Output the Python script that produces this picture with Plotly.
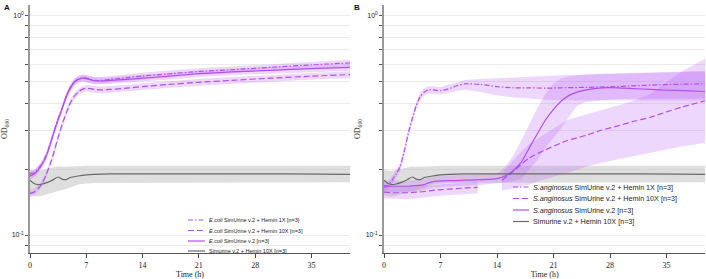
import plotly.graph_objects as go

# ---------------- data ----------------
T_CTRL = [0, 0.5, 1, 1.5, 2, 2.5, 3, 3.5, 4, 4.5, 5, 6, 7, 8, 10, 14, 20, 26, 32, 39.8]
CTRL = [0.178, 0.172, 0.170, 0.171, 0.173, 0.176, 0.180, 0.184, 0.180, 0.179, 0.183, 0.186, 0.188, 0.189, 0.190, 0.190, 0.190, 0.190, 0.190, 0.189]
CTRL_LO = [0.152, 0.151, 0.150, 0.151, 0.152, 0.155, 0.157, 0.159, 0.160, 0.162, 0.165, 0.170, 0.172, 0.173, 0.174, 0.174, 0.174, 0.174, 0.174, 0.174]
CTRL_HI = [0.198, 0.197, 0.196, 0.198, 0.200, 0.203, 0.205, 0.206, 0.205, 0.205, 0.205, 0.206, 0.207, 0.207, 0.207, 0.207, 0.207, 0.207, 0.207, 0.207]

# Panel A (E. coli)
T_A = [0, 0.5, 1, 1.5, 2, 2.5, 3, 3.5, 4, 4.5, 5, 5.5, 6, 6.5, 7, 7.5, 8, 9, 10, 12, 14, 17, 21, 25, 30, 35, 39.8]
A_1X = [0.19, 0.192, 0.20, 0.212, 0.23, 0.26, 0.30, 0.34, 0.38, 0.43, 0.47, 0.50, 0.515, 0.522, 0.52, 0.514, 0.508, 0.508, 0.513, 0.522, 0.532, 0.543, 0.558, 0.568, 0.583, 0.598, 0.61]
A_PLAIN = [0.186, 0.19, 0.198, 0.21, 0.228, 0.258, 0.297, 0.337, 0.378, 0.427, 0.467, 0.498, 0.513, 0.52, 0.518, 0.512, 0.506, 0.505, 0.508, 0.513, 0.52, 0.53, 0.545, 0.555, 0.565, 0.575, 0.582]
A_10X = [0.155, 0.157, 0.163, 0.172, 0.188, 0.21, 0.24, 0.28, 0.32, 0.36, 0.40, 0.43, 0.45, 0.462, 0.468, 0.466, 0.462, 0.46, 0.462, 0.468, 0.476, 0.486, 0.498, 0.508, 0.52, 0.531, 0.54]
A_BAND = 0.035  # relative half width of replicate band

# Panel B (S. anginosus)
T_B1 = [0, 0.5, 1, 1.5, 2, 2.5, 3, 3.5, 4, 4.5, 5, 5.5, 6, 7, 8, 9, 10, 12, 14, 16, 18, 20, 22, 25, 28, 31, 34, 37, 39.8]
B_1X = [0.165, 0.168, 0.178, 0.19, 0.205, 0.24, 0.29, 0.34, 0.39, 0.43, 0.45, 0.46, 0.46, 0.456, 0.465, 0.48, 0.49, 0.487, 0.476, 0.47, 0.47, 0.468, 0.47, 0.472, 0.475, 0.48, 0.485, 0.488, 0.49]
B_1X_LO = [0.158, 0.161, 0.170, 0.182, 0.196, 0.23, 0.278, 0.326, 0.374, 0.413, 0.432, 0.442, 0.442, 0.438, 0.445, 0.455, 0.46, 0.45, 0.435, 0.425, 0.42, 0.415, 0.412, 0.41, 0.41, 0.41, 0.41, 0.41, 0.41]
B_1X_HI = [0.172, 0.175, 0.186, 0.198, 0.214, 0.25, 0.302, 0.354, 0.406, 0.447, 0.468, 0.478, 0.478, 0.474, 0.485, 0.50, 0.51, 0.515, 0.52, 0.525, 0.53, 0.532, 0.536, 0.54, 0.545, 0.55, 0.553, 0.556, 0.558]

T_B2 = [0, 1, 2, 3, 4, 5, 5.5, 6, 8, 10, 12, 14, 15, 16, 17, 18, 19, 20, 21, 22, 23, 24, 25, 27, 29, 31, 33, 35, 37, 39.8]
B_PLAIN = [0.168, 0.167, 0.167, 0.167, 0.168, 0.170, 0.173, 0.175, 0.177, 0.178, 0.179, 0.181, 0.186, 0.197, 0.215, 0.25, 0.29, 0.335, 0.375, 0.41, 0.435, 0.45, 0.46, 0.47, 0.47, 0.466, 0.462, 0.458, 0.456, 0.452]
B_PLAIN_LO = [0.158, 0.157, 0.157, 0.157, 0.158, 0.160, 0.163, 0.165, 0.167, 0.168, 0.169, 0.172, 0.174, 0.176, 0.18, 0.2, 0.22, 0.25, 0.28, 0.31, 0.35, 0.39, 0.405, 0.412, 0.418, 0.42, 0.42, 0.42, 0.42, 0.42]
B_PLAIN_HI = [0.178, 0.177, 0.177, 0.177, 0.178, 0.180, 0.183, 0.185, 0.187, 0.188, 0.189, 0.19, 0.205, 0.23, 0.27, 0.32, 0.38, 0.44, 0.49, 0.52, 0.53, 0.535, 0.54, 0.545, 0.548, 0.55, 0.552, 0.555, 0.557, 0.56]

T_B3a = [0, 1, 2, 3, 4, 5, 6, 7, 8, 9, 10, 11.6]
B_10X_a = [0.157, 0.156, 0.156, 0.156, 0.157, 0.158, 0.160, 0.161, 0.162, 0.163, 0.164, 0.165]
B_10X_a_LO = [0.147, 0.146, 0.146, 0.146, 0.147, 0.148, 0.150, 0.151, 0.152, 0.153, 0.154, 0.155]
B_10X_a_HI = [0.167, 0.166, 0.166, 0.166, 0.167, 0.168, 0.170, 0.171, 0.172, 0.173, 0.174, 0.175]
T_B3b = [14.6, 16, 17, 18, 20, 22.7, 25, 26.8, 29, 30.9, 33, 35, 37, 39.8]
B_10X_b = [0.178, 0.195, 0.21, 0.225, 0.245, 0.27, 0.285, 0.30, 0.315, 0.33, 0.345, 0.365, 0.385, 0.41]
B_10X_b_LO = [0.16, 0.163, 0.166, 0.17, 0.18, 0.192, 0.205, 0.213, 0.222, 0.23, 0.238, 0.246, 0.254, 0.263]
B_10X_b_HI = [0.19, 0.22, 0.24, 0.26, 0.29, 0.335, 0.355, 0.37, 0.39, 0.41, 0.44, 0.50, 0.56, 0.64]

X_TICKS = [0, 7, 14, 21, 28, 35]
Y_GRID = [0.09, 0.1, 0.2, 0.3, 0.4, 0.5, 0.6, 0.7, 0.8, 0.9, 1.0]
Y_LABELS = {1.0: "10<sup>0</sup>", 0.1: "10<sup>-1</sup>"}

LEG_A = ["<i>E.coli</i> SimUrine v.2 + Hemin 1X [n=3]",
         "<i>E.coli</i> SimUrine v.2 + Hemin 10X [n=3]",
         "<i>E.coli</i> SimUrine v.2 [n=3]",
         "Simurine v.2 + Hemin 10X [n=3]"]
LEG_B = ["<i>S.anginosus</i> SimUrine v.2 + Hemin 1X [n=3]",
         "<i>S.anginosus</i> SimUrine v.2 + Hemin 10X [n=3]",
         "<i>S.anginosus</i> SimUrine v.2 [n=3]",
         "Simurine v.2 + Hemin 10X [n=3]"]

# ---------------- style ----------------
PURPLE = "#b24ff0"
BAND_P = "rgba(190,110,245,0.28)"
GRAY = "#6a6a6a"
BAND_G = "rgba(195,195,195,0.55)"
DASHDOT = "5px,2px,1.5px,2px"
DASH = "6px,3px"
LEG_STYLES = [(PURPLE, DASHDOT), (PURPLE, DASH), (PURPLE, "solid"), (GRAY, "solid")]

W, H = 706, 279
serif = "Liberation Serif, Times New Roman, serif"
sans = "Liberation Sans, Arial, sans-serif"

fig = go.Figure()


def band(t, lo, hi, color, xa, ya):
    fig.add_trace(go.Scatter(x=list(t) + list(t)[::-1], y=list(hi) + list(lo)[::-1],
                             fill="toself", fillcolor=color, line=dict(width=0),
                             mode="lines", hoverinfo="skip", showlegend=False,
                             xaxis=xa, yaxis=ya))


def line(t, y, color, dash, name, xa, ya):
    fig.add_trace(go.Scatter(x=t, y=y, mode="lines", name=name, showlegend=False,
                             line=dict(color=color, width=1.2, dash=dash, shape="spline", smoothing=0.6),
                             xaxis=xa, yaxis=ya))


# Panel A
band(T_CTRL, CTRL_LO, CTRL_HI, BAND_G, "x", "y")
for ser in (A_1X, A_10X, A_PLAIN):
    band(T_A, [v * (1 - A_BAND) for v in ser], [v * (1 + A_BAND) for v in ser], BAND_P, "x", "y")
line(T_A, A_1X, PURPLE, DASHDOT, LEG_A[0], "x", "y")
line(T_A, A_10X, PURPLE, DASH, LEG_A[1], "x", "y")
line(T_A, A_PLAIN, PURPLE, "solid", LEG_A[2], "x", "y")
line(T_CTRL, CTRL, GRAY, "solid", LEG_A[3], "x", "y")

# Panel B
band(T_CTRL, CTRL_LO, CTRL_HI, BAND_G, "x2", "y2")
band(T_B1, B_1X_LO, B_1X_HI, BAND_P, "x2", "y2")
band(T_B2, B_PLAIN_LO, B_PLAIN_HI, BAND_P, "x2", "y2")
band(T_B3a, B_10X_a_LO, B_10X_a_HI, BAND_P, "x2", "y2")
band(T_B3b, B_10X_b_LO, B_10X_b_HI, BAND_P, "x2", "y2")
line(T_B1, B_1X, PURPLE, DASHDOT, LEG_B[0], "x2", "y2")
line(T_B3a + [None] + T_B3b, B_10X_a + [None] + B_10X_b, PURPLE, DASH, LEG_B[1], "x2", "y2")
line(T_B2, B_PLAIN, PURPLE, "solid", LEG_B[2], "x2", "y2")
line(T_CTRL, CTRL, GRAY, "solid", LEG_B[3], "x2", "y2")

# ---- hand-built compact legends (plotly's legend rows are too tall) ----
shapes, annotations = [], []


def legend_block(labels, x_line0, x_line1, rows_y, fsize):
    for lab, (col, dash), ry in zip(labels, LEG_STYLES, rows_y):
        yp = 1 - ry / H
        shapes.append(dict(type="line", xref="paper", yref="paper", x0=x_line0 / W, x1=x_line1 / W,
                           y0=yp, y1=yp, line=dict(color=col, width=1.2, dash=dash)))
        annotations.append(dict(text=lab, x=(x_line1 + 2) / W, y=yp, xref="paper", yref="paper",
                                xanchor="left", yanchor="middle", showarrow=False,
                                font=dict(family=sans, size=fsize, color="#222")))


legend_block(LEG_A, 188, 205, [220, 230.5, 241, 251], 5.5)
legend_block(LEG_B, 513, 529, [187, 198.5, 210, 221.5], 7.2)

annotations += [
    dict(text="<b>A</b>", x=2 / W, y=1 - 1 / H, xref="paper", yref="paper",
         xanchor="left", yanchor="top", showarrow=False, font=dict(family=sans, size=8, color="#111")),
    dict(text="<b>B</b>", x=352 / W, y=1 - 1 / H, xref="paper", yref="paper",
         xanchor="left", yanchor="top", showarrow=False, font=dict(family=sans, size=8, color="#111")),
]

xcommon = dict(range=[0, 39.8], tickvals=X_TICKS, ticks="outside", ticklen=4, tickwidth=1,
               tickcolor="#444", showline=True, linecolor="#555", linewidth=1.3,
               showgrid=False, zeroline=False, automargin=False,
               tickfont=dict(family=serif, size=8, color="#222"),
               title=dict(text="Time (h)", font=dict(family=serif, size=8, color="#222"), standoff=2))
ycommon = dict(type="log", range=[-1.082, 0.05], tickvals=Y_GRID,
               ticktext=[Y_LABELS.get(v, "") for v in Y_GRID],
               ticks="outside", ticklen=3, tickwidth=1, tickcolor="#555",
               showline=True, linecolor="#999", linewidth=1.6,
               showgrid=True, gridcolor="#ebebeb", gridwidth=1, zeroline=False, automargin=False,
               tickfont=dict(family=sans, size=7, color="#222"),
               title=dict(text="OD<sub>600</sub>", font=dict(family=serif, size=8, color="#222"), standoff=4))

fig.update_layout(
    width=W, height=H, margin=dict(l=0, r=0, t=0, b=0, autoexpand=False),
    paper_bgcolor="white", plot_bgcolor="white", showlegend=False,
    xaxis=dict(domain=[30 / W, 350 / W], anchor="y", **xcommon),
    yaxis=dict(domain=[1 - 253 / H, 1 - 5 / H], anchor="x", **ycommon),
    xaxis2=dict(domain=[384 / W, 0.999], anchor="y2", **xcommon),
    yaxis2=dict(domain=[1 - 253 / H, 1 - 5 / H], anchor="x2", **ycommon),
    shapes=shapes, annotations=annotations,
)

fig.write_html("out.html")
